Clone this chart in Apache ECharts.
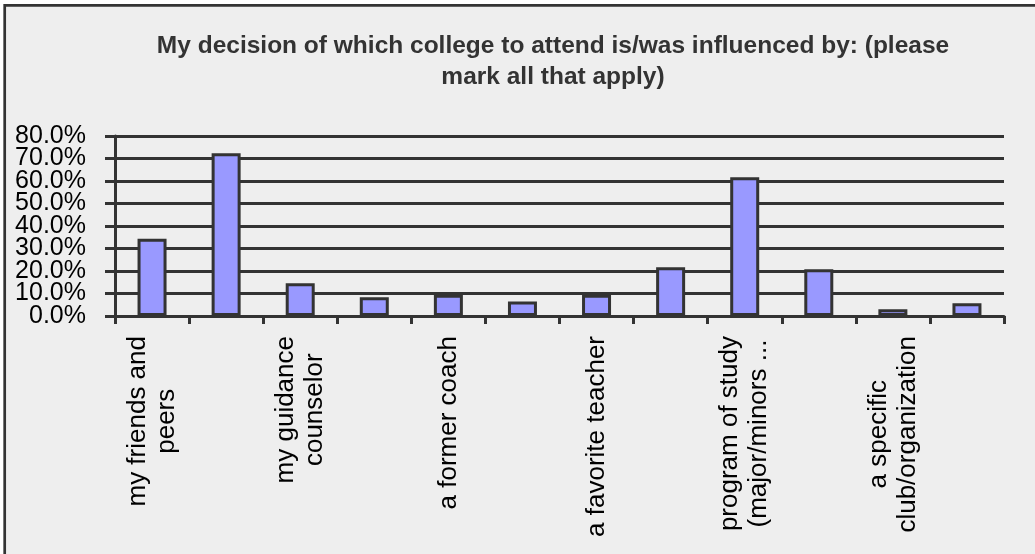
<!DOCTYPE html>
<html>
<head>
<meta charset="utf-8">
<script src="https://cdn.jsdelivr.net/npm/echarts@6/dist/echarts.min.js"></script>
<style>
html,body{margin:0;padding:0;background:#ffffff;overflow:hidden;}
#c{width:1035px;height:554px;}
</style>
</head>
<body>
<div id="c"></div>
<script>
var titleText = 'My decision of which college to attend is/was influenced by: (please\nmark all that apply)';
var categories = [
  'my friends and\npeers', '',
  'my guidance\ncounselor', '',
  'a former coach', '',
  'a favorite teacher', '',
  'program of study\n(major/minors ...', '',
  'a specific\nclub/organization', ''
];
var values = [34.3, 72.3, 14.6, 8.3, 9.4, 6.4, 9.4, 21.7, 61.7, 20.8, 3.0, 5.7];
var yMin = 0, yMax = 80, yStep = 10;

var chart = echarts.init(document.getElementById('c'), null, {renderer: 'canvas'});
var FONT = 'Liberation Sans, Arial, sans-serif';

function yLabelStyle(showEven) {
  return {
    margin: 29,
    color: '#000000',
    fontFamily: FONT,
    fontSize: 25,
    showMinLabel: showEven,
    showMaxLabel: showEven,
    formatter: function (v) {
      var isEven = Math.round(v / yStep) % 2 === 0;
      return isEven === showEven ? v.toFixed(1) + '%' : '';
    }
  };
}

chart.setOption({
  backgroundColor: 'transparent',
  animation: false,
  graphic: {
    elements: [{
      type: 'rect',
      z: -10,
      silent: true,
      shape: {x: 4.7, y: 5.3, width: 1200, height: 700},
      style: {fill: '#eeeeee', stroke: '#333333', lineWidth: 2.7}
    }]
  },
  title: {
    text: titleText,
    left: 553,
    top: 31,
    padding: 0,
    textAlign: 'center',
    textStyle: {
      fontFamily: FONT,
      fontSize: 24.5,
      lineHeight: 31,
      fontWeight: 'bold',
      color: '#333333'
    }
  },
  grid: {left: 115, right: 31, top: 136, bottom: 238, containLabel: false},
  xAxis: {
    type: 'category',
    data: categories,
    boundaryGap: true,
    axisLine: {lineStyle: {color: '#333333', width: 3}},
    axisTick: {show: true, length: 8, alignWithLabel: false, interval: 0, lineStyle: {color: '#333333', width: 3}},
    axisLabel: {
      interval: 0,
      rotate: 90,
      margin: 20,
      color: '#000000',
      fontFamily: FONT,
      fontSize: 26,
      lineHeight: 29,
      formatter: function (v) {
        if (!v) return '';
        return v.split('\n').map(function (s) { return '{c|' + s + '}'; }).join('\n');
      },
      rich: {
        c: {fontFamily: FONT, fontSize: 26, lineHeight: 29, color: '#000000', align: 'center'}
      }
    },
    splitLine: {show: false}
  },
  yAxis: [{
    type: 'value',
    position: 'left',
    min: yMin,
    max: yMax,
    interval: yStep,
    axisLine: {show: true, lineStyle: {color: '#333333', width: 3}},
    axisTick: {show: true, length: 10, lineStyle: {color: '#333333', width: 3}},
    axisLabel: yLabelStyle(true),
    splitLine: {show: true, lineStyle: {color: '#333333', width: 3}}
  }, {
    type: 'value',
    position: 'left',
    offset: 0,
    min: yMin,
    max: yMax,
    interval: yStep,
    axisLine: {show: false},
    axisTick: {show: false},
    axisLabel: yLabelStyle(false),
    splitLine: {show: false}
  }],
  series: [{
    type: 'bar',
    yAxisIndex: 0,
    data: values,
    barWidth: 29,
    itemStyle: {color: '#9999ff', borderColor: '#333333', borderWidth: 3}
  }]
});
</script>
</body>
</html>
